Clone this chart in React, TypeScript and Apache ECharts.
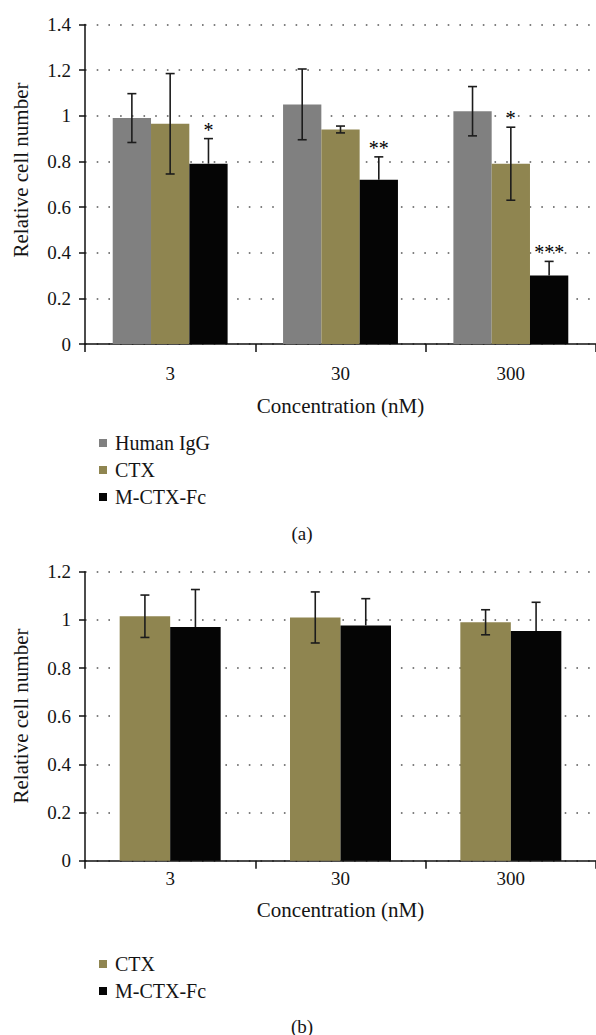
import React, { useEffect, useRef } from "react";
import * as echarts from "echarts";

const categories = ["3", "30", "300"];
const seriesNamesA = ["Human IgG", "CTX", "M-CTX-Fc"];
const seriesNamesB = ["CTX", "M-CTX-Fc"];

const humanIgGA = [0.99, 1.05, 1.02];
const ctxA = [0.965, 0.94, 0.79];
const mctxA = [0.79, 0.72, 0.3];
const humanIgGErrA = [0.107, 0.155, 0.108];
const ctxErrA = [0.22, 0.015, 0.16];
const mctxErrA = [0.11, 0.1, 0.062];
const humanIgGSigA = ["", "", ""];
const ctxSigA = ["", "", "*"];
const mctxSigA = ["*", "**", "***"];

const ctxB = [1.015, 1.01, 0.99];
const mctxB = [0.97, 0.977, 0.954];
const ctxErrB = [0.088, 0.106, 0.052];
const mctxErrB = [0.156, 0.111, 0.119];
const noSigB = ["", "", ""];

const yMaxA = 1.4;
const yMaxB = 1.2;
const yStep = 0.2;

const FONT = "Liberation Serif, DejaVu Serif, serif";
const TEXT = "#141414";
const COLORS: Record<string, string> = {
  "Human IgG": "#808080",
  CTX: "#8f8550",
  "M-CTX-Fc": "#050505",
};

export default function App() {
  const ref = useRef<HTMLDivElement>(null);
  useEffect(() => {
    if (!ref.current) return;
    const chart = echarts.init(ref.current, null, { renderer: "svg" });

    const left = 85;
    const right = -3;
    const grids = [
      { left, right, top: 24.5, height: 319.5 },
      { left, right, top: 571.7, height: 289 },
    ];

    const xAxisBase = (gridIndex: number, labelMargin: number, nameGap: number) => ({
      type: "category",
      gridIndex,
      data: categories,
      name: "Concentration (nM)",
      nameLocation: "middle",
      nameGap,
      nameTextStyle: { fontFamily: FONT, fontSize: 21, color: TEXT },
      axisLine: { show: true, lineStyle: { color: "#111", width: 1.5 } },
      axisTick: { show: true, alignWithLabel: false, length: 8, inside: false, lineStyle: { color: "#111", width: 1.5 } },
      axisLabel: { show: true, margin: labelMargin, fontFamily: FONT, fontSize: 19, color: TEXT },
      splitLine: { show: false },
    });

    const yAxisBase = (gridIndex: number, max: number) => ({
      type: "value",
      gridIndex,
      min: 0,
      max,
      interval: yStep,
      axisLine: { show: true, lineStyle: { color: "#111", width: 1.5 } },
      axisTick: { show: true, length: 6, inside: false, lineStyle: { color: "#111", width: 1.5 } },
      axisLabel: { show: true, margin: 14, fontFamily: FONT, fontSize: 19, color: TEXT },
      splitLine: {
        show: true,
        lineStyle: { color: "#555", width: 1.6, type: [1.6, 10.1] },
      },
    });

    const makeBars = (names: string[], values: number[][], axisIndex: number, barWidth: number) =>
      names.map((n, i) => ({
        type: "bar",
        name: n,
        xAxisIndex: axisIndex,
        yAxisIndex: axisIndex,
        data: values[i],
        barWidth,
        barGap: "0%",
        itemStyle: { color: COLORS[n] },
        z: 2,
      }));

    const makeErr = (
      names: string[],
      values: number[][],
      errs: number[][],
      sigs: string[][],
      axisIndex: number,
      barWidth: number
    ) =>
      names.map((n, i) => ({
        type: "custom",
        name: "err-" + axisIndex + "-" + i,
        xAxisIndex: axisIndex,
        yAxisIndex: axisIndex,
        z: 5,
        clip: false,
        itemStyle: { color: "#000" },
        data: values[i].map((v, k) => [k, v, errs[i][k]]),
        renderItem: (params: any, api: any) => {
          const cat = api.value(0);
          const v = api.value(1);
          const e = api.value(2);
          const base = api.coord([cat, v]);
          const off = (i - (names.length - 1) / 2) * barWidth;
          const x = base[0] + off;
          const yHi = api.coord([cat, v + e])[1];
          const yLo = api.coord([cat, v - e])[1];
          const cap = 4.5;
          const st = { stroke: "#1c1c1c", lineWidth: 1.6 };
          const hideLower = COLORS[n] === "#050505";
          const children: any[] = [
            { type: "line", shape: { x1: x, y1: yHi, x2: x, y2: hideLower ? base[1] : yLo }, style: st },
            { type: "line", shape: { x1: x - cap, y1: yHi, x2: x + cap, y2: yHi }, style: st },
          ];
          if (!hideLower) {
            children.push({ type: "line", shape: { x1: x - cap, y1: yLo, x2: x + cap, y2: yLo }, style: st });
          }
          const s = sigs[i][params.dataIndex];
          if (s) {
            children.push({
              type: "text",
              x,
              y: yHi - 9,
              style: {
                text: s,
                fill: "#000000",
                fontFamily: FONT,
                fontSize: 20,
                align: "center",
                verticalAlign: "middle",
              },
            });
          }
          return { type: "group", children };
        },
      }));

    const option: any = {
      animation: false,
      backgroundColor: "#ffffff",
      grid: grids,
      xAxis: [xAxisBase(0, 20, 51), xAxisBase(1, 8, 39)],
      yAxis: [yAxisBase(0, yMaxA), yAxisBase(1, yMaxB)],
      legend: [
        {
          orient: "vertical",
          left: 94,
          top: 428,
          data: seriesNamesA,
          icon: "rect",
          itemWidth: 8,
          itemHeight: 8,
          itemGap: 7,
          selectedMode: false,
          textStyle: { fontFamily: FONT, fontSize: 20, color: TEXT, padding: [0, 0, 0, 3] },
        },
        {
          orient: "vertical",
          left: 94,
          top: 949,
          data: seriesNamesB,
          icon: "rect",
          itemWidth: 8,
          itemHeight: 8,
          itemGap: 7,
          selectedMode: false,
          textStyle: { fontFamily: FONT, fontSize: 20, color: TEXT, padding: [0, 0, 0, 3] },
        },
      ],
      graphic: [
        {
          type: "text",
          x: 21,
          y: 170,
          rotation: Math.PI / 2,
          style: { text: "Relative cell number", fontFamily: FONT, fontSize: 21, fill: TEXT, align: "center", verticalAlign: "middle" },
        },
        {
          type: "text",
          x: 21,
          y: 716,
          rotation: Math.PI / 2,
          style: { text: "Relative cell number", fontFamily: FONT, fontSize: 21, fill: TEXT, align: "center", verticalAlign: "middle" },
        },
        {
          type: "text",
          x: 302,
          y: 533,
          style: { text: "(a)", fontFamily: FONT, fontSize: 19, fill: TEXT, align: "center", verticalAlign: "middle" },
        },
        {
          type: "text",
          x: 302,
          y: 1026,
          style: { text: "(b)", fontFamily: FONT, fontSize: 19, fill: TEXT, align: "center", verticalAlign: "middle" },
        },
      ],
      series: [
        ...makeBars(seriesNamesA, [humanIgGA, ctxA, mctxA], 0, 38.3),
        ...makeBars(seriesNamesB, [ctxB, mctxB], 1, 50.5),
        ...makeErr(
          seriesNamesA,
          [humanIgGA, ctxA, mctxA],
          [humanIgGErrA, ctxErrA, mctxErrA],
          [humanIgGSigA, ctxSigA, mctxSigA],
          0,
          38.3
        ),
        ...makeErr(seriesNamesB, [ctxB, mctxB], [ctxErrB, mctxErrB], [noSigB, noSigB], 1, 50.5),
      ],
    };
    chart.setOption(option);
    return () => chart.dispose();
  }, []);

  return (
    <div
      ref={ref}
      style={{ position: "absolute", left: 0, top: 0, width: 596, height: 1035, background: "#fff" }}
    />
  );
}
